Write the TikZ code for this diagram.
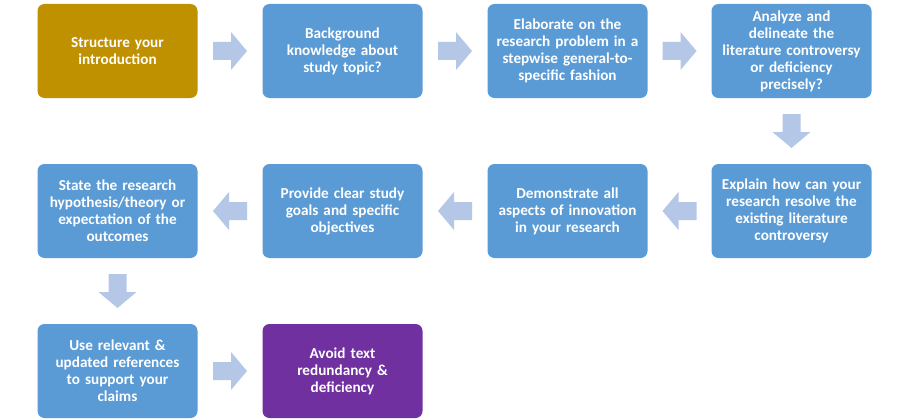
\documentclass[tikz,border=0pt]{standalone}
\usepackage{fontspec}
\setmainfont{Carlito}
\usetikzlibrary{calc}
\definecolor{boxblue}{HTML}{5B9BD5}
\definecolor{boxgold}{HTML}{BF9000}
\definecolor{boxpurple}{HTML}{7030A0}
\definecolor{arrowfill}{HTML}{B4C7E7}
\tikzset{
  stepbox/.style={rounded corners=7pt, minimum width=160pt, minimum height=94pt,
    text width=158pt, align=center, inner sep=0pt, text=white,
    font=\fontsize{15.2pt}{17pt}\selectfont\bfseries},
  bluebox/.style={stepbox, fill=boxblue},
  goldbox/.style={stepbox, fill=boxgold},
  purplebox/.style={stepbox, fill=boxpurple},
  pics/barrow/.style={code={
    \fill[arrowfill] (-17pt,-9pt) -- (1pt,-9pt) -- (1pt,-19pt) -- (17pt,0pt)
      -- (1pt,19pt) -- (1pt,9pt) -- (-17pt,9pt) -- cycle;}}
}
\begin{document}
\begin{tikzpicture}[x=1pt,y=1pt]
\useasboundingbox[fill=white] (0,0) rectangle (910,-420);
% row 1
\node[goldbox] (n1) at (117.5,-51) {Structure your\\introduction};
\node[bluebox] (n2) at (342.5,-51) {Background\\knowledge about\\study topic?};
\node[bluebox] (n3) at (567.5,-51) {Elaborate on the\\research problem in a\\stepwise general-to-\\specific fashion};
\node[bluebox] (n4) at (791.5,-51) {Analyze and\\delineate the\\literature controversy\\or deficiency\\precisely?};
% row 2
\node[bluebox] (n5) at (791.5,-211) {Explain how can your\\research resolve the\\existing literature\\controversy};
\node[bluebox] (n6) at (567.5,-211) {Demonstrate all\\aspects of innovation\\in your research};
\node[bluebox] (n7) at (342.5,-211) {Provide clear study\\goals and specific\\objectives};
\node[bluebox] (n8) at (117.5,-211) {State the research\\hypothesis/theory or\\expectation of the\\outcomes};
% row 3
\node[bluebox] (n9) at (117.5,-371) {Use relevant \&\\updated references\\to support your\\claims};
\node[purplebox] (n10) at (342.5,-371) {Avoid text\\redundancy \&\\deficiency};
% arrows
\pic at ($(n1.east)!0.5!(n2.west)$) {barrow};
\pic at ($(n2.east)!0.5!(n3.west)$) {barrow};
\pic at ($(n3.east)!0.5!(n4.west)$) {barrow};
\pic[rotate=-90] at ($(n4.south)!0.5!(n5.north)$) {barrow};
\pic[rotate=180] at ($(n5.west)!0.5!(n6.east)$) {barrow};
\pic[rotate=180] at ($(n6.west)!0.5!(n7.east)$) {barrow};
\pic[rotate=180] at ($(n7.west)!0.5!(n8.east)$) {barrow};
\pic[rotate=-90] at ($(n8.south)!0.5!(n9.north)$) {barrow};
\pic at ($(n9.east)!0.5!(n10.west)$) {barrow};
\end{tikzpicture}
\end{document}
